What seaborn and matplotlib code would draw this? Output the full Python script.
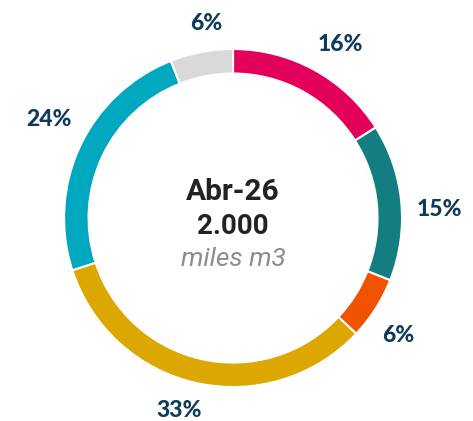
import matplotlib
matplotlib.use("Agg")
import matplotlib.pyplot as plt
import numpy as np
import seaborn as sns

sns.set_theme(style="white")
plt.rcParams['font.family'] = ['Lato', 'DejaVu Sans']

categories = ["A", "B", "C", "D", "E", "F"]
values = [16, 15, 6, 33, 24, 6]
labels = ["16%", "15%", "6%", "33%", "24%", "6%"]
colors = ["#E2005A", "#137E80", "#F05300", "#DBA700", "#00A8BF", "#D9D9D9"]
center_title = "Abr-26"
center_value = "2.000"
center_unit = "miles m3"

fig = plt.figure(figsize=(4.73, 4.21), dpi=100)
ax = fig.add_axes([0, 0, 1, 1])

wedges, _ = ax.pie(
    values, colors=colors, startangle=90, counterclock=False,
    radius=1.0,
    wedgeprops=dict(width=0.145, edgecolor="white", linewidth=1.5),
)

ax.set_xlim(-1.379, 1.420)
ax.set_ylim(-1.201, 1.290)
ax.set_aspect("auto")
ax.axis("off")

fig.canvas.draw()
renderer = fig.canvas.get_renderer()
inv = ax.transData.inverted()
edge_r = 1.085
label_shift = -3.0  # degrees, small clockwise offset of labels
for w, lab in zip(wedges, labels):
    ang = np.deg2rad((w.theta1 + w.theta2) / 2 + label_shift)
    ux, uy = np.cos(ang), np.sin(ang)
    t = ax.text(0, 0, lab, ha="center", va="center", color="#0E3A5B",
                fontsize=16.5, fontweight="black",
                family=["Lato", "DejaVu Sans"])
    bb = t.get_window_extent(renderer)
    (x0, y0), (x1, y1) = inv.transform([[bb.x0, bb.y0], [bb.x1, bb.y1]])
    hw, hh = (x1 - x0) / 2, (y1 - y0) / 2
    d = edge_r + abs(ux) * hw + abs(uy) * hh
    t.set_position((ux * d, uy * d))

ax.text(0, 0.155, center_title, ha="center", va="center", fontsize=21.5,
        fontweight="bold", color="#222222", family=["Roboto", "DejaVu Sans"])
ax.text(0, -0.05, center_value, ha="center", va="center", fontsize=20,
        fontweight="bold", color="#222222", family=["Roboto", "DejaVu Sans"])
ax.text(0, -0.245, center_unit, ha="center", va="center", fontsize=19,
        style="italic", color="#8C8C8C", family=["Roboto", "DejaVu Sans"])

fig.savefig("out.png", dpi=100)
